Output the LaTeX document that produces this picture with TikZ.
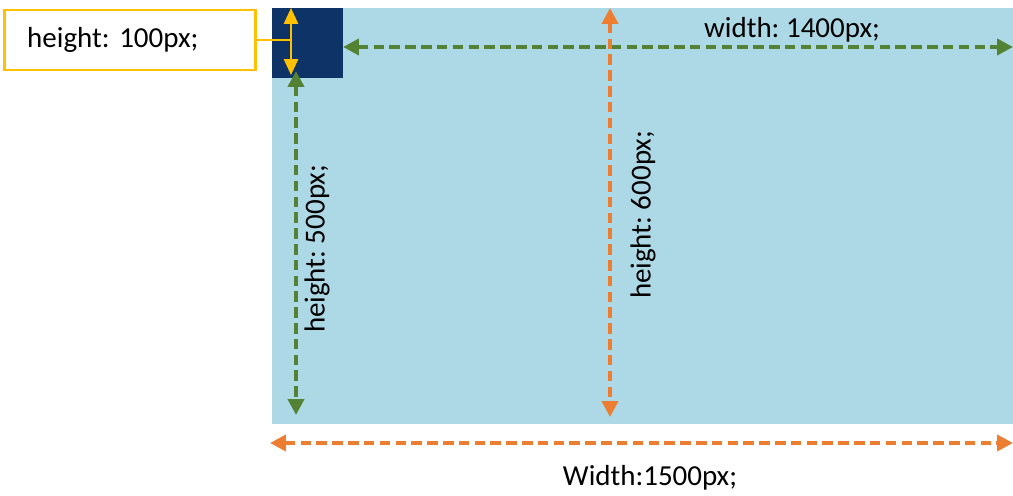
\documentclass[tikz,border=0pt]{standalone}
\usepackage{fontspec}
\setmainfont{Carlito}
\frenchspacing
\usetikzlibrary{positioning,arrows.meta}

\definecolor{pagebg}{HTML}{ADD8E6}
\definecolor{header}{HTML}{0E3366}
\definecolor{dimgreen}{HTML}{548235}
\definecolor{dimorange}{HTML}{ED7D31}
\definecolor{dimgold}{HTML}{FFC000}

\tikzset{
    dimline/.style={line width=2.2pt, dash pattern=on 6pt off 3pt,
        {Triangle[length=9pt,width=9pt]}-{Triangle[length=9pt,width=9pt]}},
    lbl/.style={font=\fontsize{16.5}{20}\selectfont, inner sep=0pt},
}

\begin{document}
\begin{tikzpicture}[x=0.02cm, y=-0.02cm]
    \useasboundingbox (0,0) rectangle (1013,496);

    % page and header block
    \fill[pagebg] (272,8) rectangle (1013,424);
    \fill[header] (272,8) rectangle (343,78);

    % end points of the measures
    \coordinate (w1400 l) at (343,47);
    \coordinate (w1400 r) at (1013,47);
    \coordinate (h500 t) at (296,71);
    \coordinate (h500 b) at (296,415);
    \coordinate (h600 t) at (610,8);
    \coordinate (h600 b) at (610,417);
    \coordinate (w1500 l) at (270,443);
    \coordinate (w1500 r) at (1013,443);
    \coordinate (h100 t) at (291,8);
    \coordinate (h100 b) at (291,75);
    \coordinate (h100 m) at (291,40);

    \node[lbl] (w1400) at (792,30) {width: 1400px;};
    \node[lbl, rotate=90] (h500) at (317,249) {height: 500px;};
    \node[lbl, rotate=90] (h600) at (643,215) {height: 600px;};
    \node[lbl] (w1500) at (650,478) {Width:1500px;};
    \node[draw=dimgold, line width=1.3pt, minimum width=143pt, minimum height=34pt,
          inner xsep=13pt, text width=117pt, align=left,
          font=\fontsize{16.5}{20}\selectfont] (h100) at (130,40) {height: 100px;};

    \draw[dimline, dimgreen] (w1400 l) -- (w1400 r);
    \draw[dimline, dimgreen] (h500 t) -- (h500 b);
    \draw[dimline, dimorange] (h600 t) -- (h600 b);
    \draw[dimline, dimorange] (w1500 l) -- (w1500 r);

    \draw[dimgold, line width=1.3pt] (h100.east) -- (h100 m);
    \draw[dimgold, line width=1.3pt,
          {Triangle[length=9pt,width=8pt]}-{Triangle[length=9pt,width=8pt]}] (h100 t) -- (h100 b);
\end{tikzpicture}
\end{document}
